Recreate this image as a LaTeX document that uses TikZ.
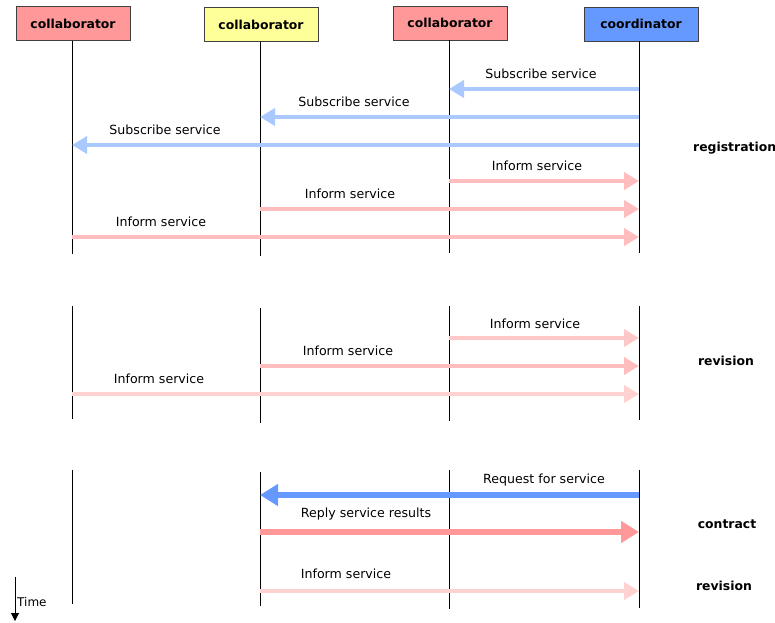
\documentclass[tikz,border=0pt]{standalone}
\usepackage{fontspec}
\setmainfont{DejaVu Sans}
\usetikzlibrary{arrows.meta}
\definecolor{hred}{HTML}{FF9999}
\definecolor{hyel}{HTML}{FFFF99}
\definecolor{hblue}{HTML}{6699FF}
\definecolor{subblue}{HTML}{A9C9FF}
\definecolor{infpink}{HTML}{FFBDBD}
\definecolor{infpink2}{HTML}{FFC8C8}
\definecolor{infpink3}{HTML}{FFD2D2}
\tikzset{
  header/.style={draw=black!75, line width=0.8pt, minimum width=114pt, minimum height=34pt, inner sep=0pt, font=\fontsize{12.4pt}{14pt}\selectfont\bfseries},
  life/.style={draw=black, line width=1pt},
  msg/.style={line width=4pt, -{Triangle[length=15pt,width=17pt]}},
  bigmsg/.style={line width=5.5pt, -{Triangle[length=18pt,width=21pt]}},
  lbl/.style={font=\fontsize{12.6pt}{14pt}\selectfont, inner sep=0pt},
  phase/.style={font=\fontsize{12.4pt}{14pt}\selectfont\bfseries, inner sep=0pt},
}
\begin{document}
\begin{tikzpicture}[x=1pt,y=-1pt]
\useasboundingbox (0,0) rectangle (775,622);
\clip (0,0) rectangle (775,622);
% headers
\node[header, fill=hred] (h1) at (73,23.5) {collaborator};
\node[header, fill=hyel] (h2) at (261,24.5) {collaborator};
\node[header, fill=hred] (h3) at (450,23) {collaborator};
\node[header, fill=hblue] (h4) at (641,24) {coordinator};
% lifelines section 1
\coordinate (l1a) at (72,254); \coordinate (l2a) at (260,256);
\coordinate (l3a) at (449,253); \coordinate (l4a) at (639,253);
\draw[life] (h1.south -| l1a) -- (l1a);
\draw[life] (h2.south -| l2a) -- (l2a);
\draw[life] (h3.south -| l3a) -- (l3a);
\draw[life] (h4.south -| l4a) -- (l4a);
% section 2
\coordinate (l1b) at (72,306); \coordinate (l1c) at (72,419);
\coordinate (l2b) at (260,308); \coordinate (l2c) at (260,423);
\coordinate (l3b) at (449,306); \coordinate (l3c) at (449,421);
\coordinate (l4b) at (639,306); \coordinate (l4c) at (639,420);
\draw[life] (l1b) -- (l1c);
\draw[life] (l2b) -- (l2c);
\draw[life] (l3b) -- (l3c);
\draw[life] (l4b) -- (l4c);
% section 3
\coordinate (l1d) at (72,470); \coordinate (l1e) at (72,604);
\coordinate (l2d) at (260,472); \coordinate (l2e) at (260,606);
\coordinate (l3d) at (449,470); \coordinate (l3e) at (449,609);
\coordinate (l4d) at (639,470); \coordinate (l4e) at (639,608);
\draw[life] (l1d) -- (l1e);
\draw[life] (l2d) -- (l2e);
\draw[life] (l3d) -- (l3e);
\draw[life] (l4d) -- (l4e);
% registration messages
\coordinate (m1s) at (639,89); \coordinate (m1e) at (449,89);
\coordinate (m2s) at (639,117); \coordinate (m2e) at (260,117);
\coordinate (m3s) at (639,145); \coordinate (m3e) at (72,145);
\coordinate (m4s) at (449,181); \coordinate (m4e) at (639,181);
\coordinate (m5s) at (260,209); \coordinate (m5e) at (639,209);
\coordinate (m6s) at (72,237); \coordinate (m6e) at (639,237);
\draw[msg, subblue] (m1s) -- (m1e);
\draw[msg, subblue] (m2s) -- (m2e);
\draw[msg, subblue] (m3s) -- (m3e);
\draw[msg, infpink] (m4s) -- (m4e);
\draw[msg, infpink] (m5s) -- (m5e);
\draw[msg, infpink] (m6s) -- (m6e);
\node[lbl] (t1) at (541,74) {Subscribe service};
\node[lbl] (t2) at (354,102) {Subscribe service};
\node[lbl] (t3) at (165,130) {Subscribe service};
\node[lbl] (t4) at (537,166) {Inform service};
\node[lbl] (t5) at (350,194) {Inform service};
\node[lbl] (t6) at (161,222) {Inform service};
\node[phase, anchor=west] (p1) at (693,148) {registration};
% revision messages
\coordinate (r1s) at (449,338); \coordinate (r1e) at (639,338);
\coordinate (r2s) at (260,366); \coordinate (r2e) at (639,366);
\coordinate (r3s) at (72,394); \coordinate (r3e) at (639,394);
\draw[msg, infpink2] (r1s) -- (r1e);
\draw[msg, infpink] (r2s) -- (r2e);
\draw[msg, infpink3] (r3s) -- (r3e);
\node[lbl] (u1) at (535,324) {Inform service};
\node[lbl] (u2) at (348,351) {Inform service};
\node[lbl] (u3) at (159,379) {Inform service};
\node[phase] (p2) at (726,361) {revision};
% contract messages
\coordinate (c1s) at (639,495); \coordinate (c1e) at (260,495);
\coordinate (c2s) at (260,532); \coordinate (c2e) at (639,532);
\coordinate (c3s) at (260,591); \coordinate (c3e) at (639,591);
\draw[bigmsg, hblue] (c1s) -- (c1e);
\draw[bigmsg, hred] (c2s) -- (c2e);
\draw[msg, infpink3] (c3s) -- (c3e);
\node[lbl] (v1) at (544,480) {Request for service};
\node[lbl] (v2) at (366,514) {Reply service results};
\node[lbl] (v3) at (346,574) {Inform service};
\node[phase] (p3) at (727,524) {contract};
\node[phase] (p4) at (724,586) {revision};
% time arrow
\coordinate (ts) at (15,577); \coordinate (te) at (15,621);
\draw[line width=1pt, -{Triangle[length=8pt,width=8pt]}] (ts) -- (te);
\node[lbl, anchor=west, font=\fontsize{12pt}{14pt}\selectfont] (tl) at (17,602) {Time};
\end{tikzpicture}
\end{document}
